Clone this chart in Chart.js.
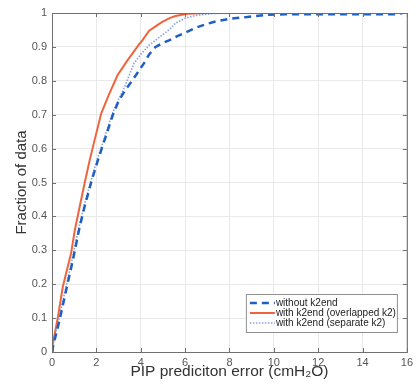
<!DOCTYPE html>
<html>
<head>
<meta charset="utf-8">
<script src="https://cdn.jsdelivr.net/npm/chart.js@4/dist/chart.umd.min.js"></script>
<style>
    html, body { margin: 0; padding: 0; background: #fff; }
    #wrap { width: 417px; height: 392px; }
</style>
</head>
<body>
<div id="wrap"><canvas id="cdfChart" width="417" height="392"></canvas></div>
<script>
const withoutX = [0, 0.04, 0.34, 0.64, 0.94, 1.25, 1.47, 1.77, 2.07, 2.37, 2.74, 3.0, 3.26, 3.63, 4.15, 4.38, 4.67, 4.97, 5.3, 5.6, 6.0, 6.5, 7.0, 7.5, 8.0, 8.8, 9.7, 10.5, 15.5, 15.8];
const withoutY = [0, 0.015, 0.094, 0.183, 0.271, 0.37, 0.429, 0.502, 0.566, 0.625, 0.699, 0.74, 0.768, 0.802, 0.852, 0.878, 0.9, 0.911, 0.92, 0.93, 0.942, 0.957, 0.968, 0.977, 0.983, 0.988, 0.995, 0.996, 0.996, 1];

const overlapX = [0, 0.04, 0.27, 0.49, 0.86, 1.03, 1.25, 1.47, 1.7, 1.92, 2.22, 2.59, 2.96, 3.41, 3.63, 3.9, 4.08, 4.38, 4.7, 4.97, 5.3, 5.57, 5.86, 6.1, 7.0, 10.2];
const overlapY = [0, 0.025, 0.104, 0.193, 0.291, 0.36, 0.429, 0.498, 0.566, 0.625, 0.704, 0.763, 0.817, 0.861, 0.881, 0.905, 0.92, 0.948, 0.962, 0.974, 0.985, 0.991, 0.995, 0.998, 1, 1];

const separateX = [0, 0.04, 0.3, 0.6, 0.9, 1.22, 1.44, 1.74, 2.03, 2.33, 2.7, 3.0, 3.26, 3.7, 4.0, 4.38, 4.97, 5.27, 5.57, 6.01, 6.5, 7.2, 8.0, 10.2];
const separateY = [0, 0.02, 0.094, 0.183, 0.271, 0.37, 0.429, 0.502, 0.566, 0.625, 0.70, 0.745, 0.78, 0.852, 0.878, 0.905, 0.935, 0.95, 0.97, 0.985, 0.993, 0.998, 1, 1];

const seriesLabels = ['without k2end', 'with k2end (overlapped k2)', 'with k2end (separate k2)'];
const xTicks = [0, 2, 4, 6, 8, 10, 12, 14, 16];
const yTicks = [0, 0.1, 0.2, 0.3, 0.4, 0.5, 0.6, 0.7, 0.8, 0.9, 1];
const yTickLabels = ['0', '0.1', '0.2', '0.3', '0.4', '0.5', '0.6', '0.7', '0.8', '0.9', '1'];

const toPoints = (xs, ys) => xs.map((x, i) => ({ x: x, y: ys[i] }));

const FONT = '"Liberation Sans", Arial, sans-serif';

// MATLAB style box, inward ticks and legend
const boxPlugin = {
    id: 'boxPlugin',
    afterDraw(chart) {
        const { ctx, chartArea: a, scales } = chart;
        ctx.save();
        ctx.strokeStyle = '#707070';
        ctx.lineWidth = 1;
        ctx.strokeRect(a.left + 0.5, a.top + 0.5, a.right - a.left, a.bottom - a.top);
        ctx.beginPath();
        xTicks.forEach(v => {
            const px = Math.round(scales.x.getPixelForValue(v)) + 0.5;
            ctx.moveTo(px, a.bottom); ctx.lineTo(px, a.bottom - 4);
            ctx.moveTo(px, a.top); ctx.lineTo(px, a.top + 4);
        });
        yTicks.forEach(v => {
            const py = Math.round(scales.y.getPixelForValue(v)) + 0.5;
            ctx.moveTo(a.left, py); ctx.lineTo(a.left + 4, py);
            ctx.moveTo(a.right, py); ctx.lineTo(a.right - 4, py);
        });
        ctx.stroke();

        // legend box, lower right
        const bx = a.right - 161, by = a.bottom - 58, bw = 151, bh = 38;
        ctx.fillStyle = '#fff';
        ctx.fillRect(bx, by, bw, bh);
        ctx.strokeStyle = '#909090';
        ctx.strokeRect(bx + 0.5, by + 0.5, bw, bh);
        ctx.font = '10px ' + FONT;
        ctx.textBaseline = 'middle';
        chart.data.datasets.forEach((ds, i) => {
            const y = by + 9 + i * 10;
            ctx.beginPath();
            ctx.strokeStyle = ds.borderColor;
            ctx.lineWidth = ds.borderWidth;
            ctx.setLineDash(ds.borderDash || []);
            ctx.moveTo(bx + 4, y);
            ctx.lineTo(bx + 29, y);
            ctx.stroke();
            ctx.setLineDash([]);
            ctx.fillStyle = '#222';
            ctx.fillText(ds.label, bx + 30, y);
        });
        ctx.restore();
    }
};

const ctx = document.getElementById('cdfChart').getContext('2d');

new Chart(ctx, {
    type: 'line',
    data: {
        datasets: [
            {
                label: seriesLabels[0],
                data: toPoints(withoutX, withoutY),
                borderColor: '#1f5fc4',
                borderWidth: 2.5,
                borderDash: [7, 5],
                pointRadius: 0,
                tension: 0,
                order: 1
            },
            {
                label: seriesLabels[1],
                data: toPoints(overlapX, overlapY),
                borderColor: '#f0643c',
                borderWidth: 2,
                pointRadius: 0,
                tension: 0,
                order: 3
            },
            {
                label: seriesLabels[2],
                data: toPoints(separateX, separateY),
                borderColor: '#86a2e2',
                borderWidth: 1.6,
                borderDash: [1.5, 1.5],
                pointRadius: 0,
                tension: 0,
                order: 2
            }
        ]
    },
    options: {
        responsive: false,
        animation: false,
        layout: { padding: { left: 0, top: 13, right: 6, bottom: 0 } },
        plugins: {
            legend: { display: false },
            tooltip: { enabled: false }
        },
        scales: {
            x: {
                type: 'linear',
                min: 0,
                max: 16,
                afterBuildTicks: s => { s.ticks = xTicks.map(v => ({ value: v })); },
                afterFit: s => { s.height = 40; },
                grid: { color: '#e9e9e9', drawTicks: false },
                border: { display: false },
                ticks: { padding: 4, color: '#555', font: { family: FONT, size: 11 }, maxRotation: 0 },
                title: {
                    display: true,
                    text: 'PIP prediciton error (cmH\u2082O)',
                    color: '#333',
                    font: { family: FONT, size: 15.5 },
                    padding: { top: 0, bottom: 11 }
                }
            },
            y: {
                min: 0,
                max: 1,
                afterBuildTicks: s => { s.ticks = yTicks.map(v => ({ value: v })); },
                afterFit: s => { s.width = 52; },
                grid: { color: '#e9e9e9', drawTicks: false },
                border: { display: false },
                ticks: {
                    padding: 5,
                    color: '#555',
                    font: { family: FONT, size: 11 },
                    callback: (value, index) => yTickLabels[index]
                },
                title: {
                    display: true,
                    text: 'Fraction of data',
                    color: '#333',
                    font: { family: FONT, size: 15 },
                    padding: { top: 13, bottom: 0 }
                }
            }
        }
    },
    plugins: [boxPlugin]
});
</script>
</body>
</html>
